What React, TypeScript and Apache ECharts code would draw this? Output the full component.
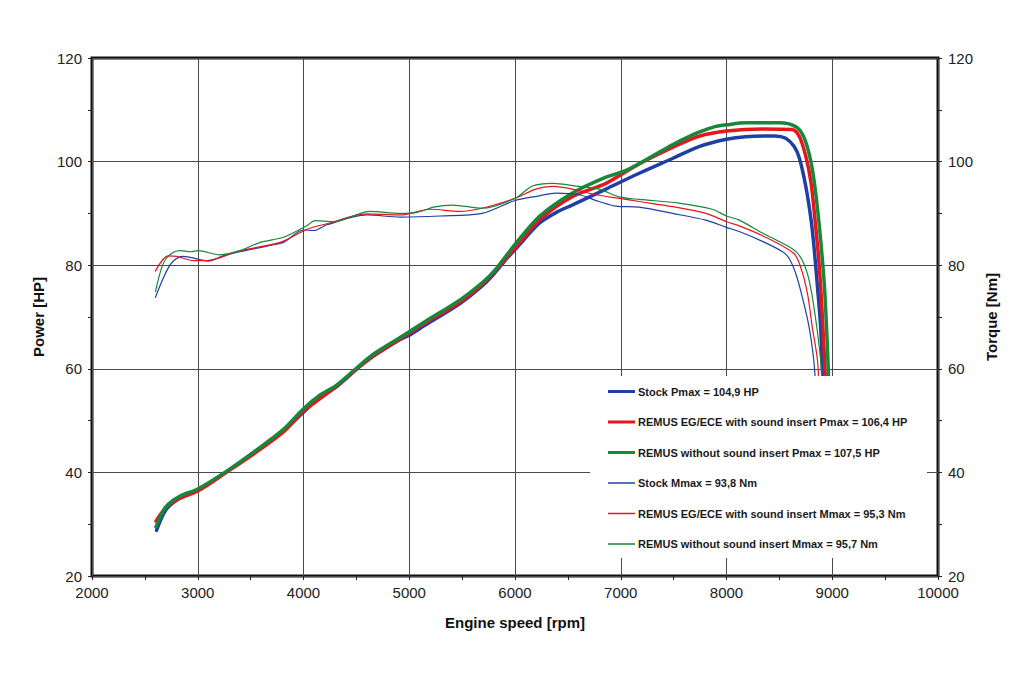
import { useEffect, useRef } from "react"
import * as echarts from "echarts"

// [rpm, value] pairs
const stockPower: [number, number][] = [
  [2610, 28.8], [2700, 32.8], [2830, 35.0], [3000, 36.5], [3270, 40.1], [3560, 44.2], [3810, 48.0],
  [4000, 51.6], [4100, 53.6], [4160, 54.5], [4310, 56.5], [4500, 59.9], [4660, 62.4], [4910, 65.6],
  [5010, 66.6], [5140, 68.3], [5480, 72.6], [5700, 76.2], [5800, 78.3], [5910, 81.0], [6000, 83.0],
  [6230, 88.1], [6400, 90.3], [6540, 91.6], [6860, 94.7], [7170, 97.7], [7490, 100.6], [7740, 102.9],
  [8000, 104.3], [8180, 104.8], [8460, 104.95], [8560, 104.5], [8640, 102.9], [8690, 100.6],
  [8750, 95.2], [8800, 88.7], [8830, 83.0], [8860, 75.9], [8890, 68.2], [8915, 56.0],
]

const ecePower: [number, number][] = [
  [2605, 30.6], [2700, 33.2], [2830, 35.0], [3000, 36.4], [3270, 40.0], [3560, 44.0], [3810, 47.8],
  [4000, 51.8], [4160, 54.3], [4310, 56.6], [4500, 59.9], [4660, 62.5], [4910, 65.7], [5140, 68.7],
  [5480, 72.9], [5700, 76.5], [5800, 78.6], [6000, 83.3], [6230, 88.7], [6540, 93.2], [6860, 95.8],
  [7170, 99.5], [7550, 103.3], [7740, 104.9], [8000, 105.9], [8340, 106.3],
  [8620, 106.2], [8690, 104.8], [8750, 101.0], [8800, 95.8], [8840, 88.1], [8875, 80.4],
  [8905, 70.7], [8940, 56.0],
]

const freePower: [number, number][] = [
  [2605, 29.5], [2700, 33.4], [2830, 35.4], [3000, 36.8], [3270, 40.2], [3560, 44.4], [3810, 48.3],
  [4000, 52.3], [4160, 55.0], [4310, 56.8], [4500, 60.1], [4660, 62.8], [4910, 66.0], [5140, 69.0],
  [5480, 73.3], [5700, 76.8], [5800, 78.8], [6000, 84.0], [6230, 89.4], [6540, 93.9], [6860, 97.0],
  [7050, 98.3], [7380, 102.0], [7550, 103.9], [7740, 105.7], [7900, 106.8],
  [8000, 107.1], [8180, 107.5], [8500, 107.5], [8650, 106.8], [8730, 104.8], [8795, 100.3],
  [8840, 94.5], [8890, 84.9], [8930, 74.6], [8970, 56.0],
]

const stockTorque: [number, number][] = [
  [2600, 73.8], [2740, 80.1], [2850, 81.7], [2930, 81.5], [3100, 80.8], [3240, 81.8], [3400, 82.6],
  [3710, 83.9], [3810, 84.4], [4000, 86.8], [4100, 86.7], [4220, 87.8], [4600, 89.7], [4915, 89.3],
  [5290, 89.5], [5690, 90.0], [6000, 92.5], [6230, 93.4], [6385, 93.9], [6605, 93.6], [6795, 92.3],
  [6955, 91.4], [7175, 91.2], [7490, 90.0], [7805, 88.7], [8000, 87.3], [8120, 86.5], [8340, 84.6],
  [8530, 82.6], [8590, 81.4], [8655, 78.4], [8715, 74.0], [8780, 68.2], [8825, 61.7], [8845, 56.0],
]

const eceTorque: [number, number][] = [
  [2600, 78.9], [2720, 81.8], [2800, 81.7], [2960, 80.9], [3085, 80.9], [3400, 82.8], [3780, 84.4],
  [4030, 86.9], [4220, 88.0], [4600, 89.9], [4915, 89.7], [5200, 90.8], [5480, 90.4], [5690, 91.0],
  [6000, 92.9], [6195, 94.7], [6355, 95.2], [6545, 94.7], [6765, 93.6], [6985, 92.9], [7175, 92.3],
  [7490, 91.3], [7805, 90.0], [8000, 88.4], [8120, 87.6], [8340, 85.7], [8635, 82.3], [8700, 79.7],
  [8765, 74.6], [8810, 68.2], [8860, 61.7], [8875, 56.0],
]

const freeTorque: [number, number][] = [
  [2600, 74.9], [2675, 80.4], [2755, 82.3], [2835, 82.8], [2930, 82.6], [3005, 82.8], [3210, 82.0],
  [3400, 82.8], [3590, 84.4], [3810, 85.4], [4030, 87.6], [4110, 88.6], [4285, 88.4], [4630, 90.4],
  [4915, 90.0], [5075, 90.2], [5230, 91.2], [5410, 91.6], [5690, 91.0], [6000, 92.9], [6165, 95.3],
  [6355, 95.8], [6605, 95.2], [6795, 94.7], [6985, 93.2], [7175, 92.7], [7550, 92.0], [7865, 90.8],
  [8000, 89.5], [8120, 88.7], [8340, 86.2], [8635, 83.0], [8715, 81.0], [8780, 77.2], [8840, 70.1],
  [8890, 61.7], [8905, 56.0],
]

const seriesNames = [
  "Stock Pmax = 104,9 HP",
  "REMUS EG/ECE with sound insert Pmax = 106,4 HP",
  "REMUS without sound insert Pmax = 107,5 HP",
  "Stock Mmax = 93,8 Nm",
  "REMUS EG/ECE with sound insert Mmax = 95,3 Nm",
  "REMUS without sound insert Mmax = 95,7 Nm",
]

const BLUE = "#1f40a3"
const RED = "#e8151f"
const GREEN = "#17873a"
const FONT = "Arial, 'Liberation Sans', Helvetica, sans-serif"

// legend swatches: thick bar for power, hairline for torque
const THICK_ICON = "path://M0,0H27V3H0Z"
const THIN_ICON = "path://M0,0H54V3H0Z"

export default function App() {
  const chartRef = useRef<HTMLDivElement>(null)

  useEffect(() => {
    if (!chartRef.current) return
    const chart = echarts.init(chartRef.current, undefined, { renderer: "svg" })

    const line = (name: string, data: [number, number][], color: string, width: number, yAxisIndex: number) => ({
      name,
      type: "line",
      data,
      yAxisIndex,
      symbol: "none",
      smooth: 0.3,
      lineStyle: { color, width, join: "round", cap: "round" },
      itemStyle: { color },
      z: 2,
    })

    const yAxisBase = {
      type: "value",
      min: 20,
      max: 120,
      interval: 20,
      axisLine: { show: false },
      axisTick: { show: true, length: 4, lineStyle: { color: "#222" } },
      minorTick: { show: true, splitNumber: 2, length: 4, lineStyle: { color: "#222" } },
      axisLabel: { color: "#222", fontSize: 15, fontFamily: FONT, margin: 10 },
      nameLocation: "middle",
      nameRotate: 90,
      nameTextStyle: { color: "#111", fontSize: 15, fontWeight: "bold", fontFamily: FONT },
    }

    chart.setOption({
      animation: false,
      backgroundColor: "#fff",
      grid: {
        left: 92,
        right: 86,
        top: 58,
        bottom: 107,
        show: true,
        borderColor: "#111",
        borderWidth: 3,
        backgroundColor: "transparent",
      },
      xAxis: {
        type: "value",
        min: 2000,
        max: 10000,
        interval: 1000,
        axisLine: { show: false },
        axisTick: { show: true, length: 4, lineStyle: { color: "#222" } },
        minorTick: { show: true, splitNumber: 2, length: 4, lineStyle: { color: "#222" } },
        splitLine: { show: true, lineStyle: { color: "#4a4a4a", width: 1 } },
        axisLabel: { color: "#222", fontSize: 15, fontFamily: FONT, margin: 9, formatter: (v: number) => String(v) },
        name: "Engine speed [rpm]",
        nameLocation: "middle",
        nameGap: 39,
        nameTextStyle: { color: "#111", fontSize: 15, fontWeight: "bold", fontFamily: FONT },
      },
      yAxis: [
        {
          ...yAxisBase,
          position: "left",
          name: "Power [HP]",
          nameGap: 46,
          splitLine: { show: true, lineStyle: { color: "#4a4a4a", width: 1 } },
        },
        {
          ...yAxisBase,
          position: "right",
          name: "Torque [Nm]",
          nameGap: 46,
          splitLine: { show: false },
        },
      ],
      legend: {
        orient: "vertical",
        left: 608,
        top: 386,
        padding: 0,
        itemWidth: 27,
        itemHeight: 14,
        itemGap: 19.5,
        z: 20,
        data: seriesNames.map((name, i) => ({
          name,
          icon: i < 3 ? THICK_ICON : THIN_ICON,
        })),
        textStyle: { color: "#1a1a1a", fontSize: 11, fontWeight: "bold", fontFamily: FONT, padding: [0, 0, 0, -2] },
      },
      graphic: [
        {
          type: "rect",
          z: 10,
          shape: { x: 590, y: 376, width: 337, height: 182 },
          style: { fill: "#fff" },
          silent: true,
        },
      ],
      series: [
        line(seriesNames[0], stockPower, BLUE, 3.5, 0),
        line(seriesNames[1], ecePower, RED, 3.5, 0),
        line(seriesNames[2], freePower, GREEN, 3.5, 0),
        line(seriesNames[3], stockTorque, BLUE, 1.2, 1),
        line(seriesNames[4], eceTorque, RED, 1.2, 1),
        line(seriesNames[5], freeTorque, GREEN, 1.2, 1),
      ],
    })

    return () => {
      chart.dispose()
    }
  }, [])

  return (
    <div
      ref={chartRef}
      style={{ position: "fixed", left: 0, top: 0, width: 1024, height: 683, background: "#fff" }}
    />
  )
}
